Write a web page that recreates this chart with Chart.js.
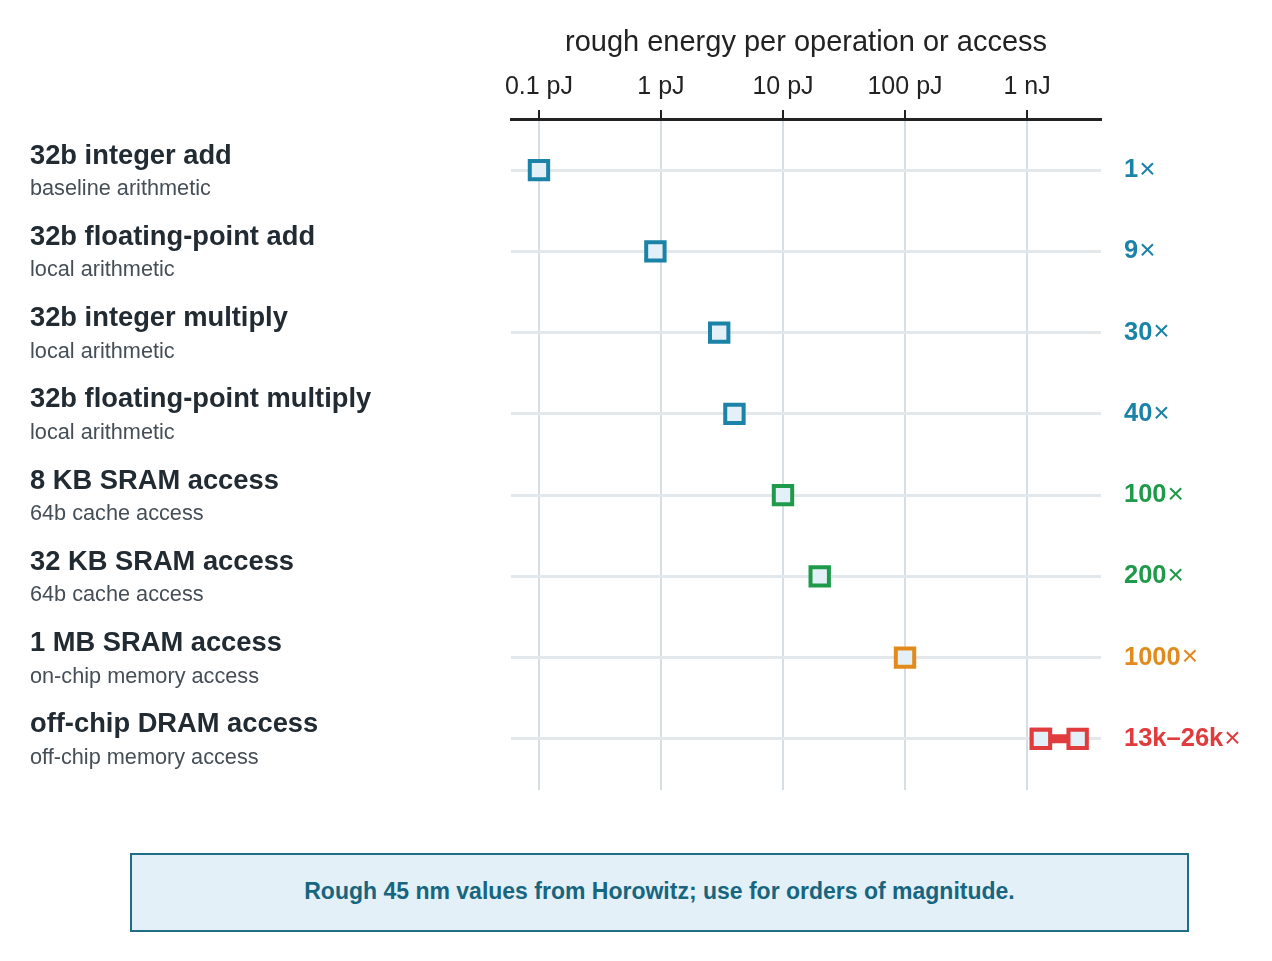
<!DOCTYPE html>
<html>
<head>
<meta charset="utf-8">
<script src="https://cdn.jsdelivr.net/npm/chart.js@4.4.1/dist/chart.umd.min.js"></script>
<style>
    body { margin: 0; background: #fff; font-family: "Liberation Sans", Arial, sans-serif; }
    #wrap { position: absolute; left: 0; top: 0; width: 1272px; height: 830px; }
    #note {
        position: absolute; left: 130px; top: 853px; width: 1055px; height: 72px; padding-bottom: 3px;
        border: 2px solid #1f6e85; background: #e3f0f7; color: #17657f;
        font-weight: bold; font-size: 23px; display: flex; align-items: center; justify-content: center;
    }
</style>
</head>
<body>
<div id="wrap"><canvas id="energyChart"></canvas></div>
<div id="note">Rough 45 nm values from Horowitz; use for orders of magnitude.</div>
<script>
Chart.defaults.font.family = "'Liberation Sans', Arial, sans-serif";
Chart.defaults.color = "#222";

// Data (pJ)
const operations = [
    "32b integer add",
    "32b floating-point add",
    "32b integer multiply",
    "32b floating-point multiply",
    "8 KB SRAM access",
    "32 KB SRAM access",
    "1 MB SRAM access",
    "off-chip DRAM access",
];
const contexts = [
    "baseline arithmetic",
    "local arithmetic",
    "local arithmetic",
    "local arithmetic",
    "64b cache access",
    "64b cache access",
    "on-chip memory access",
    "off-chip memory access",
];
const energyLow = [0.1, 0.9, 3, 4, 10, 20, 100, 1300];
const energyHigh = [null, null, null, null, null, null, null, 2600];
const ratioLabels = ["1", "9", "30", "40", "100", "200", "1000", "13k–26k"];
const groups = ["arith", "arith", "arith", "arith", "cache", "cache", "onchip", "offchip"];
const tickValues = [0.1, 1, 10, 100, 1000];
const tickLabels = ["0.1 pJ", "1 pJ", "10 pJ", "100 pJ", "1 nJ"];

const colors = {
    arith: "#1b82a8",
    cache: "#1f9a4b",
    onchip: "#e38a1c",
    offchip: "#e03b3d",
    fill: "#e4f0f7",
};
const rowColors = groups.map((g) => colors[g]);

// range rows (low..high) drawn as connected pair
const rangeData = [];
energyHigh.forEach((h, i) => {
    if (h !== null) {
        rangeData.push({ x: energyLow[i], y: i });
        rangeData.push({ x: h, y: i });
    }
});

const rowLabels = {
    id: "rowLabels",
    afterDraw(chart) {
        const ctx = chart.ctx;
        const y = chart.scales.y;
        ctx.save();
        ctx.textBaseline = "middle";
        ctx.textAlign = "left";
        operations.forEach((op, i) => {
            const py = y.getPixelForValue(i);
            ctx.fillStyle = "#222a32";
            ctx.font = "bold 27.3px 'Liberation Sans', Arial, sans-serif";
            ctx.fillText(op, 30, py - 14);
            ctx.fillStyle = "#454e56";
            ctx.font = "21.7px 'Liberation Sans', Arial, sans-serif";
            ctx.fillText(contexts[i], 30, py + 19);
            // ratio: bold number, thin multiplication sign
            ctx.fillStyle = rowColors[i];
            ctx.font = "bold 25.5px 'Liberation Sans', Arial, sans-serif";
            ctx.fillText(ratioLabels[i], 1124, py);
            const w = ctx.measureText(ratioLabels[i]).width;
            ctx.font = "28px 'Liberation Sans', Arial, sans-serif";
            ctx.fillText("×", 1124 + w + 1, py);
        });
        ctx.restore();
    },
};

const energyCtx = document.getElementById("energyChart").getContext("2d");
new Chart(energyCtx, {
    type: "scatter",
    data: {
        datasets: [
            {
                label: "range",
                data: rangeData,
                showLine: true,
                borderColor: colors.offchip,
                borderWidth: 9,
                pointStyle: "rect",
                pointRadius: 13,
                pointBorderWidth: 4,
                pointBorderColor: colors.offchip,
                pointBackgroundColor: colors.fill,
            },
            {
                label: "energy",
                data: energyLow.map((v, i) => ({ x: v, y: i })),
                pointStyle: "rect",
                pointRadius: 13,
                pointBorderWidth: 4,
                pointBorderColor: rowColors,
                pointBackgroundColor: colors.fill,
            },
        ],
    },
    options: {
        responsive: true,
        maintainAspectRatio: false,
        animation: false,
        events: [],
        layout: {
            padding: { left: 511, right: 171, top: 0, bottom: 40 },
        },
        plugins: {
            legend: { display: false },
            tooltip: { enabled: false },
        },
        scales: {
            x: {
                type: "logarithmic",
                position: "top",
                min: 0.059,
                max: 4040,
                afterFit: (scale) => { scale.height = 119; },
                afterBuildTicks: (scale) => {
                    scale.ticks = tickValues.map((v) => ({ value: v }));
                },
                ticks: {
                    font: { size: 25 },
                    color: "#222",
                    padding: 8,
                    maxRotation: 0,
                    autoSkip: false,
                    callback: (v, i) => tickLabels[i],
                },
                grid: {
                    color: "#d6dee4",
                    lineWidth: 2,
                    tickColor: "#222",
                    tickLength: 9,
                    tickWidth: 2,
                },
                border: { display: true, color: "#222", width: 3 },
                title: {
                    display: true,
                    text: "rough energy per operation or access",
                    font: { size: 29 },
                    color: "#222",
                    padding: { top: 26, bottom: 0 },
                },
            },
            y: {
                type: "linear",
                reverse: true,
                min: -0.63,
                max: 7.63,
                afterFit: (scale) => { scale.width = 0; },
                afterBuildTicks: (scale) => {
                    scale.ticks = operations.map((_, i) => ({ value: i }));
                },
                ticks: { display: false },
                grid: { color: "#e3e8ed", lineWidth: 3, drawTicks: false },
                border: { display: false },
            },
        },
    },
    plugins: [rowLabels],
});
</script>
</body>
</html>
